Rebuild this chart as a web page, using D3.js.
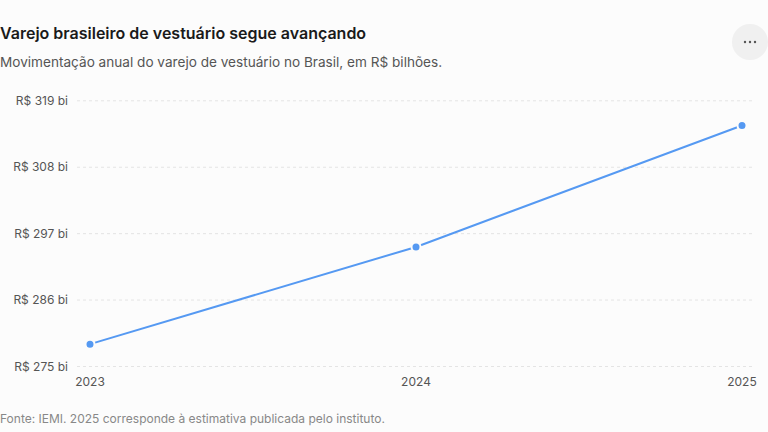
<!DOCTYPE html>
<html>
<head>
<meta charset="utf-8">
<script src="https://cdn.jsdelivr.net/npm/d3@7"></script>
<style>
  html, body { margin: 0; padding: 0; background: #fcfcfc; }
  body { width: 768px; height: 432px; overflow: hidden; font-family: Inter, "Noto Sans", sans-serif; }
</style>
</head>
<body>
<script>
// Chart data
var years = [2023, 2024, 2025];
var values = [278.7, 294.8, 314.9];
var yTicks = [275, 286, 297, 308, 319];

var width = 768, height = 432;

var svg = d3.select("body")
  .append("svg")
  .attr("width", width)
  .attr("height", height);

// title and subtitle
svg.append("text")
  .attr("x", 0)
  .attr("y", 39)
  .style("font-size", "16px")
  .style("font-weight", 600)
  .style("fill", "#1a1a1a")
  .text("Varejo brasileiro de vestuário segue avançando");

svg.append("text")
  .attr("x", 0)
  .attr("y", 66.5)
  .style("font-size", "13.6px")
  .style("fill", "#555")
  .text("Movimentação anual do varejo de vestuário no Brasil, em R$ bilhões.");

// menu button
var menu = svg.append("g").attr("transform", "translate(750,42)");
menu.append("circle").attr("r", 18).attr("fill", "#f0f0f0");
[-5, 0, 5].forEach(function(dx) {
  menu.append("circle").attr("cx", dx).attr("cy", 0).attr("r", 1.2).attr("fill", "#555");
});

// scales
var x = d3.scaleLinear().domain([2023, 2025]).range([90, 742]);
var y = d3.scaleLinear().domain([275, 319]).range([366.5, 100.8]);

// gridlines + y labels
var grid = svg.append("g");
grid.selectAll("line")
  .data(yTicks)
  .enter()
  .append("line")
  .attr("x1", 77)
  .attr("x2", 754)
  .attr("y1", function(d) { return y(d); })
  .attr("y2", function(d) { return y(d); })
  .attr("stroke", "#e4e4e4")
  .attr("stroke-dasharray", "3,3");

grid.selectAll("text")
  .data(yTicks)
  .enter()
  .append("text")
  .attr("x", 68)
  .attr("y", function(d) { return y(d); })
  .attr("dy", "0.35em")
  .attr("text-anchor", "end")
  .style("font-size", "12px")
  .style("fill", "#555")
  .text(function(d) { return "R$ " + d + " bi"; });

// x axis labels
svg.append("g")
  .selectAll("text")
  .data(years)
  .enter()
  .append("text")
  .attr("x", function(d) { return x(d); })
  .attr("y", 386)
  .attr("text-anchor", "middle")
  .style("font-size", "12px")
  .style("fill", "#555")
  .text(function(d) { return d; });

// line
var data = years.map(function(d, i) { return { year: d, value: values[i] }; });
var line = d3.line()
  .x(function(d) { return x(d.year); })
  .y(function(d) { return y(d.value); });

svg.append("path")
  .datum(data)
  .attr("d", line)
  .attr("fill", "none")
  .attr("stroke", "#5599f2")
  .attr("stroke-width", 2);

svg.selectAll(".dot")
  .data(data)
  .enter()
  .append("circle")
  .attr("class", "dot")
  .attr("cx", function(d) { return x(d.year); })
  .attr("cy", function(d) { return y(d.value); })
  .attr("r", 4.5)
  .attr("fill", "#5599f2")
  .attr("stroke", "#fcfcfc")
  .attr("stroke-width", 2);

// footer
svg.append("text")
  .attr("x", 0)
  .attr("y", 423)
  .style("font-size", "12px")
  .style("fill", "#888")
  .text("Fonte: IEMI. 2025 corresponde à estimativa publicada pelo instituto.");
</script>
</body>
</html>
